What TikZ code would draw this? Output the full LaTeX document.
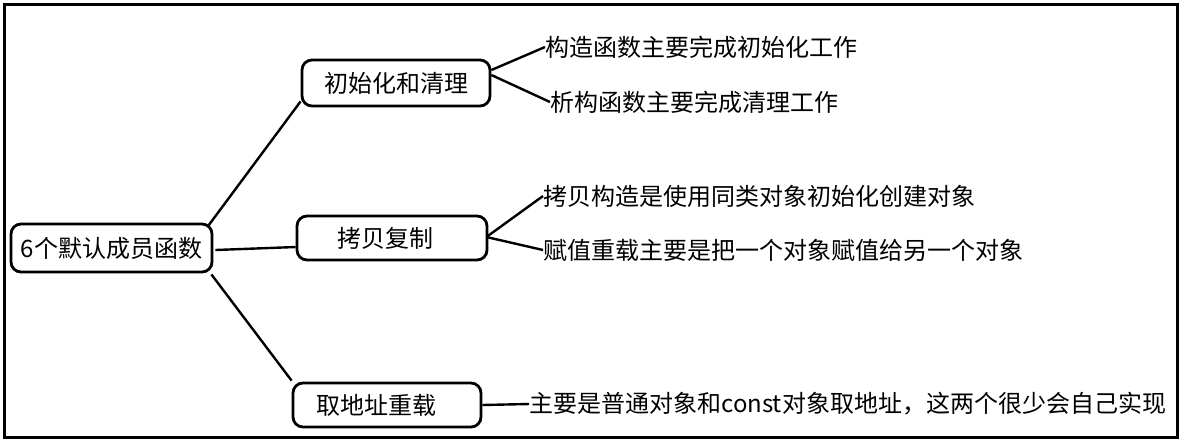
\documentclass[tikz,border=0pt]{standalone}
\usepackage{fontspec}
\setmainfont{Noto Sans CJK SC}
\usetikzlibrary{calc}
\begin{document}
\begin{tikzpicture}[x=0.5pt,y=-0.5pt,
  box/.style={draw,line width=1.4pt,rounded corners=5pt,inner sep=0pt,font=\fontsize{12pt}{14pt}\selectfont},
  leaf/.style={anchor=west,inner sep=0pt,font=\fontsize{12pt}{14pt}\selectfont},
  link/.style={line width=1.2pt}]
\useasboundingbox (0,0) rectangle (1182,441);
\draw[line width=1.5pt] (4,4) rectangle (1177,437);
\node[box,minimum width=100.5pt,minimum height=24pt] (root) at (111.5,248) {6个默认成员函数};
\node[box,minimum width=94pt,minimum height=23pt] (n1) at (396,83) {初始化和清理};
\node[box,minimum height=22pt,inner xsep=20pt,text width=55pt,align=left] (n2) at (392,238) {拷贝复制};
\node[box,minimum height=22pt,inner xsep=11.5pt,text width=71pt,align=left] (n3) at (387,405) {取地址重载};
\node[leaf] (l1) at (545,47) {构造函数主要完成初始化工作};
\node[leaf] (l2) at (550,102) {析构函数主要完成清理工作};
\node[leaf] (l3) at (543,196) {拷贝构造是使用同类对象初始化创建对象};
\node[leaf] (l4) at (543,250) {赋值重载主要是把一个对象赋值给另一个对象};
\node[leaf] (l5) at (529,404) {主要是普通对象和const对象取地址，这两个很少会自己实现};
\draw[link] ($(root.north east)+(-5,3)$) -- ($(n1.south west)+(0,-6)$);
\draw[link] ($(root.east)+(2,2)$) -- ($(n2.west)+(0,9)$);
\draw[link] ($(root.south east)+(-2,1)$) -- ($(n3.north west)+(0,-1)$);
\draw[link] ($(n1.east)+(0,-13)$) -- (l1.west);
\draw[link] ($(n1.east)+(0,-8)$) -- (l2.west);
\draw[link] ($(n2.east)+(-2,-1)$) -- (l3.west);
\draw[link] ($(n2.east)+(-2,-1)$) -- (l4.west);
\draw[link] (n3.east) -- (l5.west);
\end{tikzpicture}
\end{document}
